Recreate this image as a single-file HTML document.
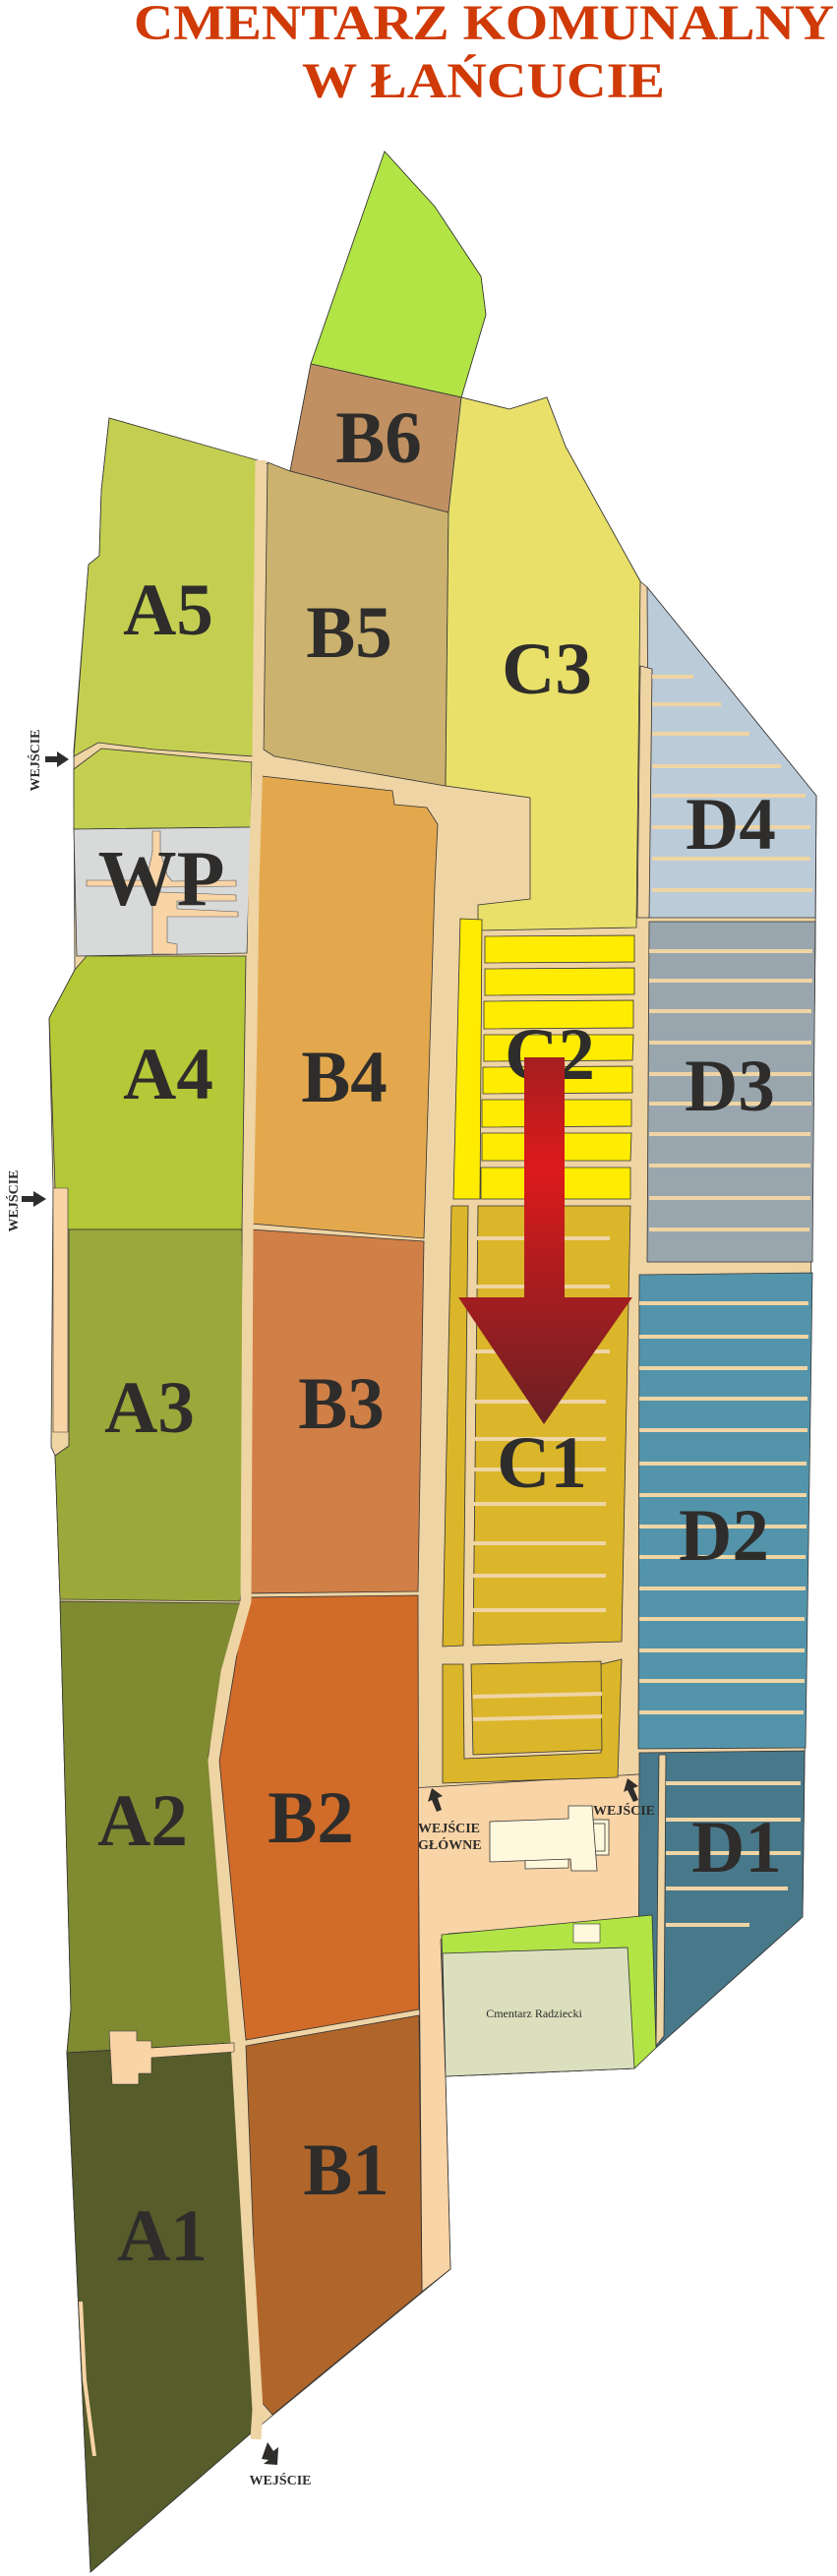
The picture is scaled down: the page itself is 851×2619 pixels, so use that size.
<!DOCTYPE html>
<html><head><meta charset="utf-8"><style>
html,body{margin:0;padding:0;background:#fff;}
svg{display:block;}
.l{font-family:"Liberation Serif",serif;font-weight:bold;fill:#2e2d2b;text-anchor:middle;font-size:75px;}
.s{font-family:"Liberation Serif",serif;font-weight:bold;fill:#2e2d2b;font-size:14px;}
</style></head><body>
<svg width="851" height="2619" viewBox="0 0 851 2619" xmlns="http://www.w3.org/2000/svg">
<defs>
<linearGradient id="rg" gradientUnits="userSpaceOnUse" x1="0" y1="1075" x2="0" y2="1448">
<stop offset="0" stop-color="#a51e20"/><stop offset="0.3" stop-color="#dd1a1b"/><stop offset="1" stop-color="#6a2024"/>
</linearGradient>
</defs>
<g font-family="Liberation Serif,serif" font-weight="bold" fill="#d03a06">
<text x="136" y="40" font-size="51" textLength="712" lengthAdjust="spacingAndGlyphs">CMENTARZ  KOMUNALNY</text>
<text x="307" y="99" font-size="51" textLength="369" lengthAdjust="spacingAndGlyphs">W  ŁAŃCUCIE</text>
</g>
<g stroke="#333" stroke-width="0.8">
<polygon fill="#efd4a4" points="111,425 267,470 295,479 316,370 391,154 442,210 489,281 494,320 469,404 518,416 556,404 575,454 651,591 658,597 830,809 829,960 816,1949 667,2082 645,2103 453,2111 458,2307 255,2474 92,2615 68,2087 72,2043 61,1626 56,1480 52,1471 54,1208 50,1035 76,986 75,763 90,574 101,565 103,499"/>
<polygon fill="#f9d4a6" points="418,1818 665,1803 670,1946 610,1954 456,1966 448,1972 453,2111 458,2307 429,2330 425,1830"/>
<polygon fill="#b2e445" points="391,154 442,210 489,281 494,320 469,404 316,370"/>
<polygon fill="#c09062" points="316,370 469,404 456,521 295,479"/>
<polygon fill="#c4cf51" points="111,425 262,468 258,769 157,762 100,755 75,769 90,574 101,565 103,499"/>
<polygon fill="#c4cf51" points="75,782 103,761 256,775 255,841 75,843"/>
<polygon fill="#d8d9d9" points="75,843 255,841 251,969 78,972"/>
<polygon fill="#b4c838" points="88,972 250,972 246,1250 60,1250 56,1208 50,1035 76,986"/>
<polygon fill="#9ba83a" points="70,1250 246,1250 248,1420 252,1560 244,1628 61,1626 56,1480 70,1470"/>
<polygon fill="#7f8a31" points="61,1628 244,1630 232,1690 212,1784 238,2077 68,2087 72,2043"/>
<polygon fill="#565c2a" points="68,2087 238,2077 258,2450 255,2474 92,2615"/>
<polygon fill="#cbb26f" points="272,470 295,479 456,521 453,799 279,769 268,762"/>
<polygon fill="#e3a84e" points="266,789 399,804 401,818 434,821 445,838 442,900 431,1259 255,1244 262,900"/>
<polygon fill="#d07f47" points="255,1250 431,1262 425,1618 250,1620 252,1420"/>
<polygon fill="#d06b29" points="250,1624 425,1622 426,2043 250,2074 223,1790 238,1700"/>
<polygon fill="#b0662b" points="250,2080 426,2049 429,2330 277,2455 264,2440"/>
<polygon fill="#e9e06a" points="469,404 518,416 556,404 575,454 651,591 647,943 486,946 486,920 539,914 539,811 453,799 456,521"/>
<polygon fill="#ffec00" points="468,934 490,935 488,1219 461,1219"/>
<g fill="#ffec00">
<polygon points="493,952 645,951 645,978 493,979"/>
<polygon points="493,985 645,984 645,1011 493,1012"/>
<polygon points="492,1018 644,1017 644,1045 492,1046"/>
<polygon points="492,1052 644,1052 643,1078 492,1079"/>
<polygon points="491,1085 643,1084 643,1111 491,1112"/>
<polygon points="490,1118 642,1118 642,1145 490,1146"/>
<polygon points="490,1152 642,1152 641,1180 490,1180"/>
<polygon points="489,1187 641,1187 641,1219 489,1219"/>
</g>
<polygon fill="#dbb62a" points="459,1226 476,1226 471,1673 450,1674"/>
<polygon fill="#dbb62a" points="486,1226 641,1226 632,1669 481,1673"/>
<polygon fill="#dbb62a" points="450,1692 471,1692 472,1788 611,1782 611,1692 632,1687 628,1807 450,1813"/>
<polygon fill="#dbb62a" points="479,1692 611,1689 612,1779 481,1784"/>
<polygon fill="#bccbd8" points="658,597 830,809 829,933 660,933"/>
<polygon fill="#efd4a4" points="651,677 663,680 660,933 648,933"/>
<polygon fill="#9aa6ae" points="660,937 829,937 826,1283 658,1283"/>
<polygon fill="#5494aa" points="650,1296 826,1294 819,1777 649,1778"/>
<polygon fill="#48798a" points="650,1782 818,1780 816,1949 667,2082 649,2082"/>
<polygon fill="#efd4a4" points="670,1784 677,1784 675,2070 667,2080"/>
</g>
<g stroke="#efd4a4" stroke-width="4">
<line x1="663" y1="688" x2="705" y2="688"/><line x1="663" y1="716" x2="733" y2="716"/>
<line x1="663" y1="746" x2="762" y2="746"/><line x1="663" y1="779" x2="794" y2="779"/>
<line x1="663" y1="809" x2="819" y2="809"/><line x1="663" y1="841" x2="824" y2="841"/>
<line x1="663" y1="873" x2="824" y2="873"/><line x1="663" y1="905" x2="826" y2="905"/>
<line x1="660" y1="967" x2="826" y2="967"/><line x1="660" y1="997" x2="826" y2="997"/>
<line x1="660" y1="1028" x2="825" y2="1028"/><line x1="660" y1="1060" x2="825" y2="1060"/>
<line x1="660" y1="1092" x2="825" y2="1092"/><line x1="660" y1="1122" x2="825" y2="1122"/>
<line x1="660" y1="1153" x2="824" y2="1153"/><line x1="660" y1="1185" x2="824" y2="1185"/>
<line x1="660" y1="1218" x2="824" y2="1218"/><line x1="660" y1="1250" x2="823" y2="1250"/>
<line x1="650" y1="1325" x2="822" y2="1325"/><line x1="650" y1="1359" x2="822" y2="1359"/>
<line x1="650" y1="1391" x2="821" y2="1391"/><line x1="650" y1="1422" x2="821" y2="1422"/>
<line x1="650" y1="1454" x2="821" y2="1454"/><line x1="650" y1="1488" x2="820" y2="1488"/>
<line x1="650" y1="1520" x2="820" y2="1520"/><line x1="650" y1="1552" x2="820" y2="1552"/>
<line x1="650" y1="1583" x2="819" y2="1583"/><line x1="650" y1="1615" x2="819" y2="1615"/>
<line x1="650" y1="1646" x2="818" y2="1646"/><line x1="650" y1="1678" x2="818" y2="1678"/>
<line x1="650" y1="1709" x2="818" y2="1709"/><line x1="650" y1="1741" x2="817" y2="1741"/>
<line x1="677" y1="1813" x2="814" y2="1813"/><line x1="677" y1="1850" x2="814" y2="1850"/>
<line x1="677" y1="1884" x2="814" y2="1884"/><line x1="677" y1="1920" x2="801" y2="1920"/>
<line x1="677" y1="1957" x2="762" y2="1957"/>
<line x1="481" y1="1259" x2="620" y2="1259"/><line x1="481" y1="1308" x2="620" y2="1308"/>
<line x1="481" y1="1336" x2="620" y2="1336"/><line x1="481" y1="1374" x2="620" y2="1374"/>
<line x1="481" y1="1425" x2="616" y2="1425"/><line x1="481" y1="1463" x2="616" y2="1463"/>
<line x1="481" y1="1494" x2="616" y2="1494"/><line x1="481" y1="1529" x2="616" y2="1529"/>
<line x1="481" y1="1569" x2="616" y2="1569"/><line x1="481" y1="1602" x2="616" y2="1602"/>
<line x1="481" y1="1637" x2="616" y2="1637"/>
<line x1="481" y1="1725" x2="612" y2="1722"/><line x1="481" y1="1748" x2="612" y2="1745"/>
</g>
<polyline fill="none" stroke="#efd4a4" stroke-width="11" points="265,468 262,769 258,900 256,1050 252,1250 250,1628 230,1700 217,1790 240,2077 262,2450 260,2480"/>
<g fill="#f9d4a6" stroke="#555" stroke-width="0.6">
<polygon points="155,845 163,845 163,866 170,890 175,896 240,895 240,901 163,902 163,907 240,910 240,916 180,916 180,924 242,927 242,932 170,932 170,958 180,960 180,970 155,970 155,901 88,901 88,895 150,895 150,890 155,866"/>
</g>
<polygon fill="#f9d4a6" stroke="#333" stroke-width="0.6" points="54,1208 69,1208 69,1456 54,1456"/>
<polyline fill="none" stroke="#f9d4a6" stroke-width="4" points="82,2340 86,2420 96,2497"/>
<polygon fill="#f9d4a6" stroke="#333" stroke-width="0.6" points="111,2065 139,2065 139,2075 154,2075 154,2082 238,2077 238,2086 154,2092 154,2108 141,2108 141,2119 114,2119"/>
<polygon fill="#b2e445" stroke="#333" stroke-width="0.8" points="449,1967 663,1947 667,2082 645,2103 453,2111"/>
<polygon fill="#dbdfbd" stroke="#333" stroke-width="0.8" points="450,1986 638,1980 645,2103 453,2111"/>
<rect x="583" y="1956" width="27" height="19" fill="#fff8dc" stroke="#333" stroke-width="0.6"/>
<text x="543" y="2051" font-family="Liberation Serif,serif" font-size="12" fill="#2e2d2b" text-anchor="middle">Cmentarz Radziecki</text>
<g fill="#fff8dc" stroke="#333" stroke-width="0.8">
<rect x="596" y="1850" width="23" height="36"/>
<rect x="600" y="1854" width="15" height="28"/>
<polygon points="534,1891 578,1890 578,1899 534,1900"/>
<polygon points="498,1852 578,1849 578,1836 602,1836 607,1902 581,1902 580,1890 498,1893"/>
</g>
<g class="l">
<text x="385" y="470">B6</text>
<text x="171" y="645">A5</text>
<text x="355" y="668">B5</text>
<text x="556" y="705">C3</text>
<text x="743" y="863">D4</text>
<text x="164" y="920" font-size="80">WP</text>
<text x="171" y="1117">A4</text>
<text x="350" y="1120">B4</text>
<text x="559" y="1097">C2</text>
<text x="742" y="1129">D3</text>
<text x="152" y="1456">A3</text>
<text x="347" y="1452">B3</text>
<text x="551" y="1512">C1</text>
<text x="736" y="1586">D2</text>
<text x="145" y="1876">A2</text>
<text x="316" y="1873">B2</text>
<text x="749" y="1903">D1</text>
<text x="352" y="2231">B1</text>
<text x="165" y="2298">A1</text>
</g>
<polygon fill="url(#rg)" points="533,1075 574,1075 574,1319 643,1319 553,1448 466,1319 533,1319"/>
<g fill="#2e2d2b">
<polygon points="46,769 58,769 58,764 70,772 58,780 58,775 46,775"/>
<polygon points="22,1216 34,1216 34,1211 47,1219 34,1227 34,1222 22,1222"/>
<polygon points="266,2500 272,2483 278,2492 283,2488 282,2506 268,2505 273,2501"/>
<polygon points="444,1842 439,1830 435,1832 439,1818 450,1826 445,1828 449,1840"/>
<polygon points="644,1832 638,1820 634,1822 638,1808 649,1816 644,1818 649,1830"/>
</g>
<text class="s" transform="translate(40,773) rotate(-90)" text-anchor="middle">WEJŚCIE</text>
<text class="s" transform="translate(18,1221) rotate(-90)" text-anchor="middle">WEJŚCIE</text>
<text class="s" x="285" y="2526" text-anchor="middle" font-size="15">WEJŚCIE</text>
<text class="s" x="425" y="1863" font-size="13">WEJŚCIE</text>
<text class="s" x="425" y="1880" font-size="13">GŁÓWNE</text>
<text class="s" x="603" y="1845" font-size="13">WEJŚCIE</text>
</svg>
</body></html>
